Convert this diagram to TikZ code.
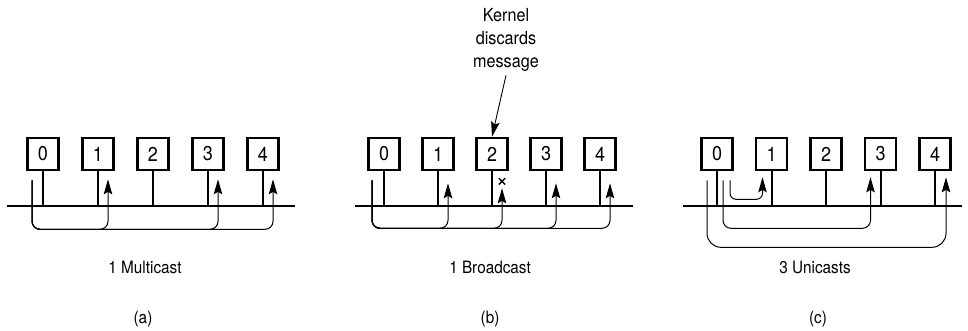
\documentclass[tikz,border=0pt]{standalone}
\usepackage{fontspec}
\setsansfont{TeX Gyre Heros}[FakeStretch=0.9]
\usetikzlibrary{arrows.meta,calc,shapes.misc}

\begin{document}
\begin{tikzpicture}[x=1pt,y=-1pt,line width=0.9pt,>={Stealth[length=15pt,width=8.5pt,inset=2.5pt]},font=\sffamily]
\tikzset{host/.style={draw,line width=2.6pt,minimum width=31pt,minimum height=32pt,inner sep=0pt,
    font=\sffamily\fontsize{20}{22}\selectfont},
  wire/.style={line width=2pt},
  msg/.style={line width=1pt,rounded corners=8pt,->},
  caption/.style={font=\sffamily\fontsize{17}{20}\selectfont}}
\useasboundingbox (0,0) rectangle (968,330);
% ---------- (a): one multicast to 1, 3 and 4 ----------
\foreach \i in {0,...,4}{
  \node[host] (a\i) at (43+55*\i,154) {\i};
  \coordinate (a\i-in) at ($(a\i.south)+(10,8)$);
}
\coordinate (abus-l) at (7,206);
\coordinate (abus-r) at (295,206);
\draw[wire] (abus-l) -- (abus-r);
\foreach \i in {0,...,4}{ \draw[wire] (a\i.south) -- (a\i.south |- abus-l); }
\coordinate (a-src) at ($(a0.south)+(-11,9)$);
\foreach \t in {1,3,4}{ \draw[msg] (a-src) |- ($(a\t-in)+(0,50)$) -- (a\t-in); }
\node[caption] (a-txt) at (145,267) {1 Multicast};
\node[caption] (a-lbl) at (143,319) {(a)};
% ---------- (b): one broadcast, kernel on 2 drops it ----------
\foreach \i in {0,...,4}{
  \node[host] (b\i) at (384+54*\i,154) {\i};
  \coordinate (b\i-in) at ($(b\i.south)+(10,12)$);
}
\coordinate (b2-in) at ($(b2.south)+(10,17)$);
\coordinate (bbus-l) at (355,206);
\coordinate (bbus-r) at (633,206);
\draw[wire] (bbus-l) -- (bbus-r);
\foreach \i in {0,...,4}{ \draw[wire] (b\i.south) -- (b\i.south |- bbus-l); }
\coordinate (b-src) at ($(b0.south)+(-12,9)$);
\foreach \t in {1,3,4}{ \draw[msg] (b-src) |- ($(b\t-in)+(0,45)$) -- (b\t-in); }
\draw[msg] (b-src) |- ($(b2-in)+(0,40)$) -- (b2-in);
\node[draw,cross out,minimum size=5pt,inner sep=0pt,line width=1.4pt] (b2-drop) at ($(b2.south)+(10,10)$) {};
\node[align=center,font=\sffamily\fontsize{18}{23}\selectfont] (note) at (506,40) {Kernel\\discards\\message};
\draw[->] (note.south) -- (b2.north);
\node[caption] (b-txt) at (490,267) {1 Broadcast};
\node[caption] (b-lbl) at (490,319) {(b)};
% ---------- (c): three separate unicasts ----------
\foreach \i in {0,...,4}{ \node[host] (c\i) at (717+54.5*\i,154) {\i}; }
\coordinate (c1-in) at ($(c1.south)+(-9,6)$);
\coordinate (c3-in) at ($(c3.south)+(-10,6)$);
\coordinate (c4-in) at ($(c4.south)+(11,6)$);
\coordinate (cbus-l) at (683,206);
\coordinate (cbus-r) at (962,206);
\draw[wire] (cbus-l) -- (cbus-r);
\foreach \i in {0,...,4}{ \draw[wire] (c\i.south) -- (c\i.south |- cbus-l); }
\coordinate (c-src1) at ($(c0.south)+(13,9)$);
\coordinate (c-src3) at ($(c0.south)+(6,9)$);
\coordinate (c-src4) at ($(c0.south)+(-10,9)$);
\draw[msg,rounded corners=6pt] (c-src1) |- ($(c1-in)+(0,22)$) -- (c1-in);
\draw[msg] (c-src3) |- ($(c3-in)+(0,51)$) -- (c3-in);
\draw[msg,rounded corners=14pt] (c-src4) |- ($(c4-in)+(0,70)$) -- (c4-in);
\node[caption] (c-txt) at (815,267) {3 Unicasts};
\node[caption] (c-lbl) at (818,319) {(c)};
\end{tikzpicture}
\end{document}
